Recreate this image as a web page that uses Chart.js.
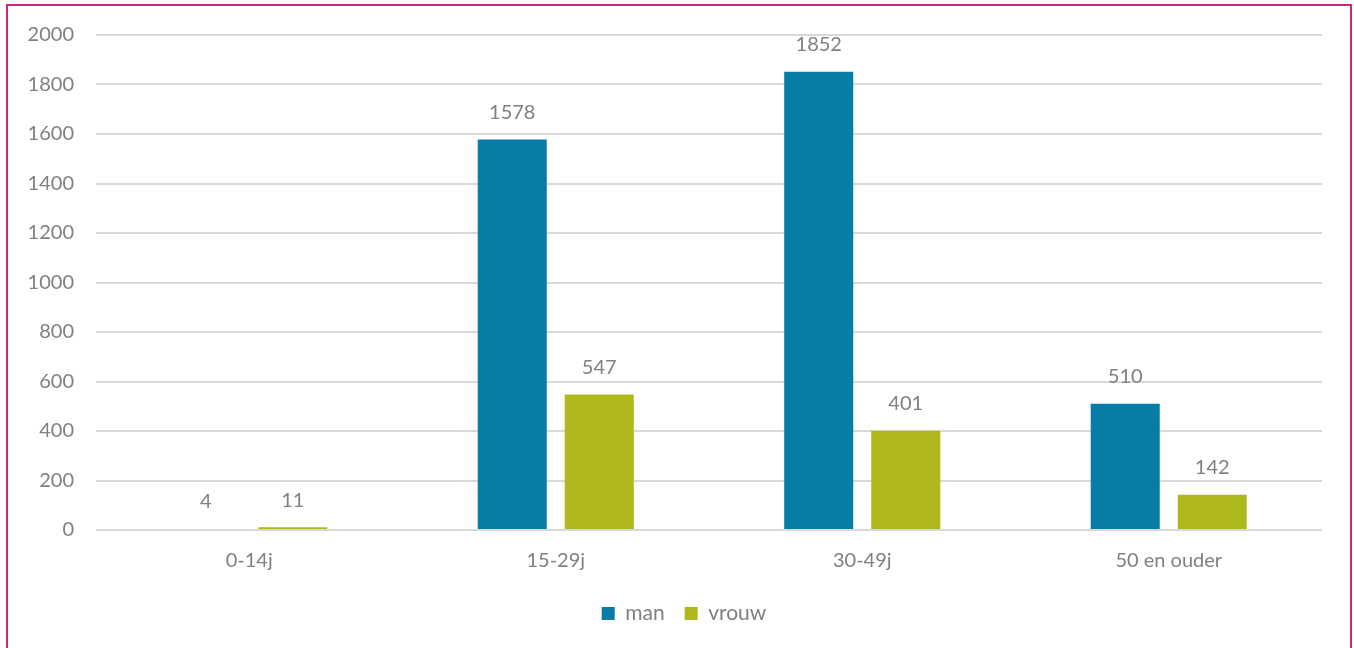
<!DOCTYPE html>
<html>
<head>
<meta charset="utf-8">
<script src="https://cdn.jsdelivr.net/npm/chart.js@4/dist/chart.umd.min.js"></script>
<style>
	body { margin: 0; background: #fff; }
	#wrap { position: absolute; left: 0; top: 0; width: 1354px; height: 648px; }
	#frame { position: absolute; left: 6px; top: 4px; width: 1342px; height: 700px; border: 2px solid #d4237f; pointer-events: none; }
</style>
</head>
<body>
<div id="frame"></div>
<div id="wrap"><canvas id="canvas0"></canvas></div>
<script>
// chart data
const categories = ['0-14j', '15-29j', '30-49j', '50 en ouder'];
const manValues = [4, 1578, 1852, 510];
const vrouwValues = [11, 547, 401, 142];
const yTicks = [0, 200, 400, 600, 800, 1000, 1200, 1400, 1600, 1800, 2000];

const textColor = '#808080';
const fontFamily = 'Lato, "Open Sans", sans-serif';

// draws the value above each bar
const valueLabels = {
	id: 'valueLabels',
	afterDatasetsDraw(chart) {
		const ctx = chart.ctx;
		ctx.save();
		ctx.font = '20px ' + fontFamily;
		ctx.fillStyle = textColor;
		ctx.textAlign = 'center';
		ctx.textBaseline = 'middle';
		chart.data.datasets.forEach((ds, i) => {
			chart.getDatasetMeta(i).data.forEach((bar, j) => {
				ctx.fillText(ds.data[j], bar.x, bar.y - 27);
			});
		});
		ctx.restore();
	}
};

// nudges the legend a bit to the right
const legendShift = {
	id: 'legendShift',
	afterLayout(chart) {
		chart.legend.left += 13;
		chart.legend.right += 13;
	}
};

new Chart(document.getElementById('canvas0').getContext('2d'), {
	type: 'bar',
	data: {
		labels: categories,
		datasets: [{
			label: 'man',
			data: manValues,
			backgroundColor: '#077ca7',
			categoryPercentage: 0.568,
			barPercentage: 0.793
		}, {
			label: 'vrouw',
			data: vrouwValues,
			backgroundColor: '#afb91e',
			categoryPercentage: 0.568,
			barPercentage: 0.793
		}]
	},
	options: {
		responsive: true,
		maintainAspectRatio: false,
		animation: false,
		layout: { padding: { left: 20, right: 32, top: 35, bottom: 14 } },
		plugins: {
			tooltip: { enabled: false },
			legend: {
				position: 'bottom',
				labels: {
					boxWidth: 13,
					boxHeight: 13,
					padding: 20,
					color: textColor,
					font: { family: fontFamily, size: 21 }
				}
			}
		},
		scales: {
			x: {
				grid: { display: false, drawTicks: false },
				border: { display: false },
				ticks: { color: textColor, padding: 19, font: { family: fontFamily, size: 20 } },
				afterFit: (scale) => { scale.height = 53; }
			},
			y: {
				min: 0,
				max: 2000,
				afterBuildTicks: (scale) => { scale.ticks = yTicks.map(v => ({ value: v })); },
				grid: { color: '#d9d9d9', lineWidth: 2, drawTicks: false },
				border: { display: false },
				ticks: {
					color: textColor,
					padding: 22,
					font: { family: fontFamily, size: 20 },
					callback: (v) => String(v)
				},
				afterFit: (scale) => { scale.width = 76; }
			}
		}
	},
	plugins: [valueLabels, legendShift]
});
</script>
</body>
</html>
